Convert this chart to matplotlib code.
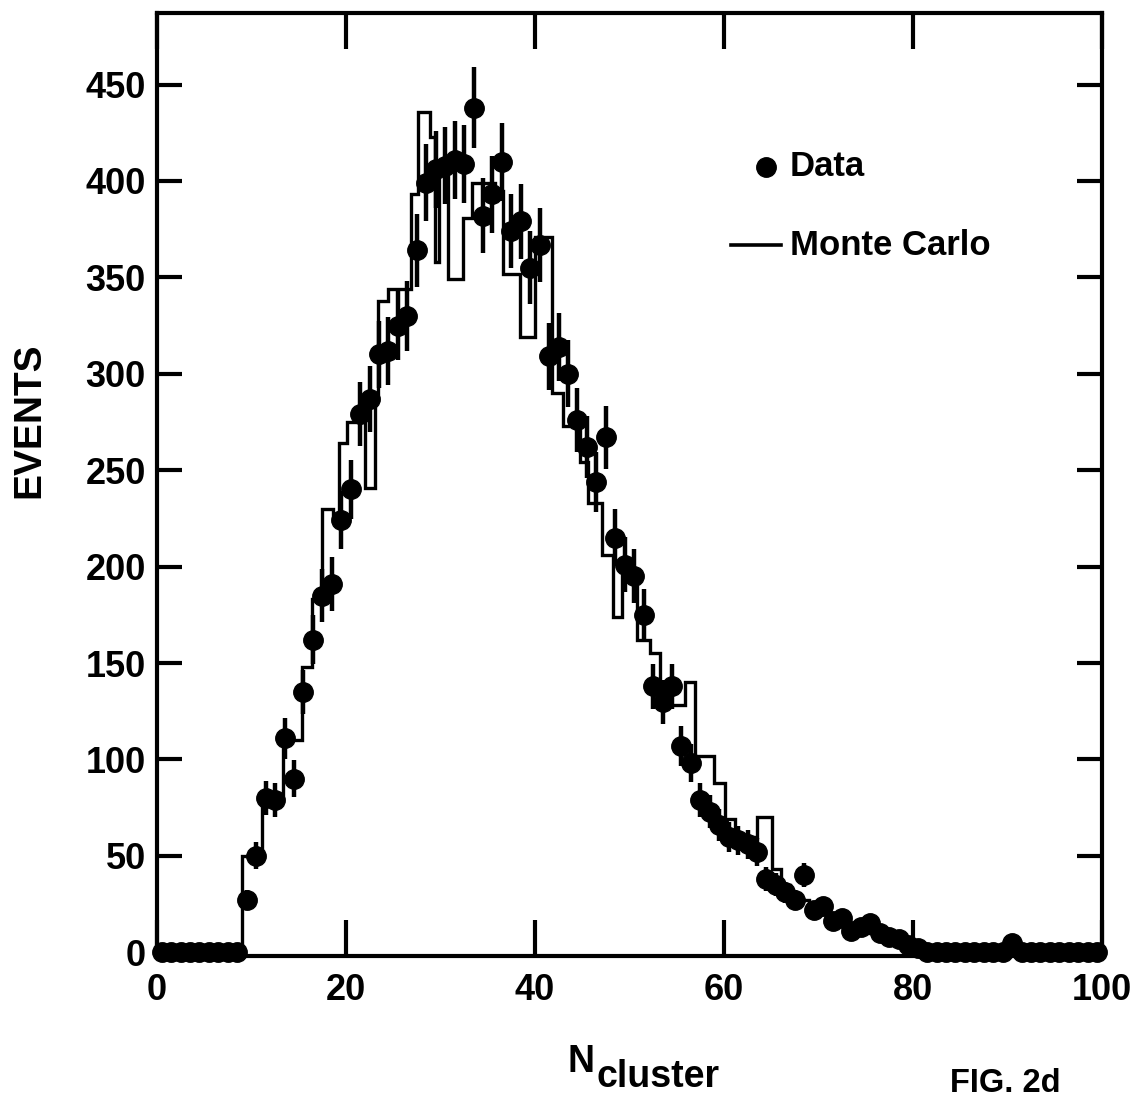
import numpy as np
import matplotlib
matplotlib.use("Agg")
import matplotlib.pyplot as plt

# Bin edges for the measured multiplicity distribution (unit-width bins, 0..100)
bin_edges = np.arange(0, 101)

# Measured event counts per bin
data_counts = [
    0, 0, 0, 0, 0, 0, 0, 0, 0, 27,
    50, 80, 79, 111, 90, 135, 162, 185, 191, 224,
    240, 279, 287, 310, 312, 325, 330, 364, 399, 406,
    408, 411, 409, 438, 382, 393, 410, 374, 379, 355,
    367, 309, 314, 300, 276, 262, 244, 267, 215, 201,
    195, 175, 138, 130, 138, 107, 98, 79, 73, 66,
    60, 58, 56, 52, 38, 35, 31, 27, 40, 22,
    24, 16, 18, 11, 13, 15, 10, 8, 7, 4,
    2, 0, 0, 0, 0, 0, 0, 0, 0, 0,
    5, 0, 0, 0, 0, 0, 0, 0, 0, 0,
]

# Monte Carlo step outline: step edges and the level between consecutive edges
mc_edges = [
    0.0, 9.0, 11.1, 13.3, 15.4, 16.4, 17.5, 18.6, 19.3, 20.1,
    22.0, 23.1, 23.4, 24.4, 26.9, 27.6, 28.9, 29.4, 29.9, 30.8,
    32.4, 33.3, 35.8, 36.6, 38.4, 40.0, 41.8, 43.0, 44.8, 45.6,
    47.1, 48.3, 49.2, 50.8, 52.2, 53.2, 55.9, 56.9, 59.0, 60.1,
    61.2, 63.5, 65.1, 66.0, 67.0, 68.0, 69.0, 70.0, 71.0, 72.0,
    73.0, 74.0, 75.0, 76.0, 77.0, 78.0, 79.0, 80.0, 81.3, 100.0,
]
mc_counts = [
    0, 50, 80, 110, 148, 183, 230, 226, 264,
    275, 241, 288, 338, 344, 393, 436, 423, 358, 405,
    349, 381, 399, 395, 352, 319, 371, 290, 273, 254,
    233, 206, 174, 196, 162, 155, 128, 140, 102, 88,
    69, 60, 70, 43, 35, 30, 27, 24, 21, 18,
    16, 14, 12, 10, 8, 7, 5, 4, 3, 0,
]

x_ticks = [0, 20, 40, 60, 80, 100]
y_ticks = [0, 50, 100, 150, 200, 250, 300, 350, 400, 450]

plt.rcParams["font.family"] = ["Liberation Sans", "DejaVu Sans"]
plt.rcParams["font.weight"] = "bold"

fig = plt.figure(figsize=(11.34, 10.99), dpi=100)
ax = fig.add_axes([0.1384, 0.130, 0.8333, 0.858])

data_counts = np.asarray(data_counts, dtype=float)
centers = 0.5 * (bin_edges[:-1] + bin_edges[1:])
poisson_err = np.sqrt(data_counts)

# Monte Carlo prediction as an outlined step histogram
ax.stairs(mc_counts, mc_edges, color="black", linewidth=2.4, baseline=0, zorder=2)

# Data with statistical error bars
ax.errorbar(centers, data_counts, yerr=poisson_err, fmt="o", color="black",
            markersize=14, elinewidth=3.2, capsize=0, clip_on=False, zorder=3)

ax.set_xlim(0, 100)
ax.set_ylim(-2, 487)
ax.set_xticks(x_ticks)
ax.set_yticks(y_ticks)
ax.tick_params(axis="both", which="major", direction="in", width=3, labelsize=26,
               top=True, right=True)
ax.tick_params(axis="y", length=18, pad=8)
ax.tick_params(axis="x", length=26, pad=12)
for side in ax.spines.values():
    side.set_linewidth(3)

fig.text(0.026, 0.618, "EVENTS", fontsize=28, rotation=90, ha="center", va="center")

# Axis title with a subscript-style offset and the figure tag
fig.text(0.500, 0.025, "N", fontsize=27, ha="left", va="baseline")
fig.text(0.526, 0.011, "cluster", fontsize=27, ha="left", va="baseline")
fig.text(0.838, 0.0065, "FIG. 2d", fontsize=23.5, ha="left", va="baseline")

# Legend drawn by hand inside the axes
ax.plot([0.644], [0.837], "o", color="black", markersize=14, transform=ax.transAxes)
ax.text(0.670, 0.837, "Data", fontsize=25, va="center", ha="left", transform=ax.transAxes)
ax.plot([0.607, 0.660], [0.754, 0.754], color="black", linewidth=2.6, transform=ax.transAxes)
ax.text(0.670, 0.754, "Monte Carlo", fontsize=25, va="center", ha="left", transform=ax.transAxes)

fig.savefig("out.png", dpi=100)
